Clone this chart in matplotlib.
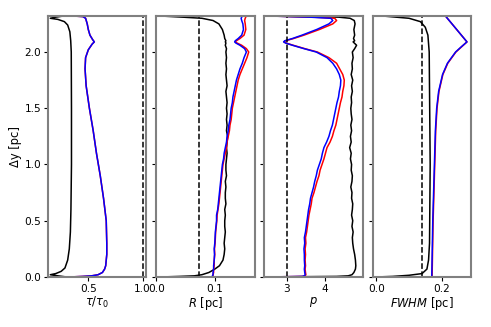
import matplotlib
matplotlib.use('Agg')
import matplotlib.pyplot as plt

# ---- smooth profiles (panel 1: tau/tau0) ----
y_tau_ref = [0.00, 0.01, 0.02, 0.03, 0.05, 0.08, 0.15, 0.25, 0.40, 0.60, 1.00, 1.50, 2.00,
             2.10, 2.18, 2.24, 2.27, 2.29, 2.30, 2.31, 2.32]
tau_ref = [0.30, 0.22, 0.15, 0.20, 0.25, 0.285, 0.31, 0.325, 0.335, 0.34, 0.345, 0.345, 0.343,
           0.338, 0.33, 0.31, 0.28, 0.22, 0.15, 0.20, 0.27]

y_tau = [0.00, 0.005, 0.01, 0.02, 0.04, 0.07, 0.10, 0.20, 0.30, 0.50, 0.70, 0.90, 1.10, 1.30,
         1.50, 1.70, 1.85, 1.95, 2.02, 2.07, 2.09, 2.11, 2.15, 2.20, 2.25, 2.30, 2.315, 2.32]
tau_blue = [0.33, 0.45, 0.53, 0.59, 0.63, 0.65, 0.66, 0.67, 0.67, 0.665, 0.64, 0.61, 0.575, 0.545,
            0.51, 0.48, 0.47, 0.475, 0.50, 0.535, 0.555, 0.54, 0.515, 0.50, 0.49, 0.475, 0.45, 0.36]
tau_red = [0.33, 0.45, 0.53, 0.59, 0.63, 0.65, 0.66, 0.67, 0.67, 0.665, 0.64, 0.61, 0.575, 0.545,
           0.51, 0.48, 0.47, 0.475, 0.50, 0.535, 0.555, 0.54, 0.515, 0.50, 0.49, 0.475, 0.45, 0.36]

# ---- noisy profiles (panel 2: R, panel 3: p) ----
y_grid = [0.00, 0.005, 0.01, 0.02, 0.04, 0.07, 0.10, 0.15,
          0.20, 0.25, 0.30, 0.35, 0.40, 0.45, 0.50, 0.55, 0.60, 0.65, 0.70, 0.75, 0.80,
          0.85, 0.90, 0.95, 1.00, 1.05, 1.10, 1.15, 1.20, 1.25, 1.30, 1.35, 1.40, 1.45,
          1.50, 1.55, 1.60, 1.65, 1.70, 1.75, 1.80, 1.85, 1.90, 1.95, 2.00,
          2.03, 2.06, 2.08, 2.09, 2.10, 2.12, 2.15, 2.20, 2.25, 2.28, 2.30, 2.31, 2.32]

R_ref = [0.008, 0.040, 0.065, 0.078, 0.090, 0.100, 0.108, 0.114,
         0.116, 0.117, 0.116, 0.117, 0.118, 0.117, 0.117, 0.118, 0.117, 0.119, 0.118,
         0.118, 0.119, 0.118, 0.120, 0.119, 0.119, 0.120, 0.121, 0.120, 0.121, 0.122,
         0.120, 0.121, 0.120, 0.121, 0.120, 0.121, 0.120, 0.119, 0.121, 0.120, 0.119,
         0.120, 0.119, 0.120, 0.119,
         0.120, 0.118, 0.119, 0.118, 0.119, 0.117, 0.116, 0.113, 0.107, 0.097, 0.078, 0.045, 0.008]
R_blue = [0.096, 0.096, 0.096, 0.097, 0.097, 0.098, 0.098, 0.099,
          0.0995, 0.099, 0.100, 0.1005, 0.101, 0.102, 0.103, 0.103, 0.105, 0.106, 0.107,
          0.108, 0.109, 0.110, 0.111, 0.112, 0.113, 0.115, 0.116, 0.118, 0.120, 0.121,
          0.123, 0.124, 0.126, 0.127, 0.128, 0.130, 0.131, 0.133, 0.135, 0.137, 0.140,
          0.143, 0.147, 0.150, 0.154,
          0.151, 0.143, 0.136, 0.134, 0.135, 0.140, 0.146, 0.149, 0.148, 0.146, 0.145, 0.146, 0.147]
R_red = [0.096, 0.096, 0.097, 0.097, 0.098, 0.098, 0.099, 0.099,
         0.100, 0.0995, 0.1005, 0.101, 0.1015, 0.1025, 0.1035, 0.104, 0.1055, 0.107, 0.108,
         0.109, 0.110, 0.111, 0.112, 0.113, 0.114, 0.116, 0.118, 0.120, 0.121, 0.123,
         0.125, 0.126, 0.128, 0.129, 0.130, 0.132, 0.134, 0.136, 0.138, 0.140, 0.143,
         0.147, 0.151, 0.155, 0.158,
         0.154, 0.146, 0.138, 0.135, 0.137, 0.143, 0.150, 0.153, 0.152, 0.151, 0.152, 0.153, 0.152]

p_ref = [2.55, 4.30, 4.60, 4.70, 4.75, 4.79, 4.80, 4.79,
         4.77, 4.74, 4.72, 4.71, 4.73, 4.70, 4.72, 4.69, 4.71, 4.72, 4.69, 4.70, 4.67,
         4.70, 4.71, 4.68, 4.69, 4.66, 4.68, 4.64, 4.68, 4.66, 4.69, 4.67, 4.70, 4.68,
         4.67, 4.69, 4.68, 4.71, 4.69, 4.72, 4.68, 4.71, 4.70, 4.73, 4.71,
         4.77, 4.82, 4.76, 4.73, 4.77, 4.74, 4.77, 4.75, 4.78, 4.76, 4.65, 4.35, 2.50]
p_blue = [2.55, 3.40, 3.46, 3.48, 3.47, 3.46, 3.47, 3.46,
          3.46, 3.45, 3.47, 3.46, 3.49, 3.51, 3.53, 3.55, 3.57, 3.60, 3.62, 3.66, 3.70,
          3.73, 3.77, 3.80, 3.85, 3.90, 3.93, 3.97, 4.04, 4.10, 4.14, 4.19, 4.22, 4.25,
          4.28, 4.31, 4.35, 4.37, 4.40, 4.41, 4.37, 4.30, 4.20, 4.05, 3.77,
          3.45, 3.15, 2.97, 2.92, 2.95, 3.15, 3.40, 3.78, 4.10, 4.20, 4.15, 3.60, 2.55]
p_red = [2.55, 3.42, 3.48, 3.50, 3.49, 3.48, 3.49, 3.48,
         3.49, 3.48, 3.50, 3.49, 3.52, 3.54, 3.56, 3.58, 3.61, 3.64, 3.66, 3.71, 3.75,
         3.79, 3.84, 3.87, 3.92, 3.97, 4.01, 4.05, 4.13, 4.19, 4.23, 4.28, 4.31, 4.34,
         4.37, 4.40, 4.44, 4.46, 4.49, 4.50, 4.46, 4.38, 4.30, 4.10, 3.80,
         3.47, 3.17, 2.98, 2.93, 2.97, 3.18, 3.45, 3.85, 4.20, 4.30, 4.25, 3.70, 2.55]

# ---- panel 4: FWHM ----
y_fw_ref = [0.00, 0.005, 0.015, 0.03, 0.07, 0.15, 0.30, 1.00, 2.00, 2.15, 2.22, 2.27,
            2.30, 2.31, 2.32]
fw_ref = [0.00, 0.05, 0.10, 0.14, 0.155, 0.160, 0.163, 0.165, 0.162, 0.158, 0.150, 0.135,
          0.10, 0.06, 0.02]
y_fw = [0.00, 0.02, 0.50, 1.00, 1.30, 1.50, 1.65, 1.80, 1.90, 2.00, 2.05, 2.09, 2.32]
fw_blue = [0.170, 0.170, 0.173, 0.178, 0.181, 0.185, 0.191, 0.203, 0.218, 0.243, 0.262, 0.278, 0.212]
fw_red = [0.171, 0.171, 0.174, 0.179, 0.182, 0.186, 0.192, 0.204, 0.219, 0.244, 0.263, 0.278, 0.212]

ref_lines = [1.0, 0.073, 3.0, 0.14]
xlims = [(0.13, 1.035), (0.0, 0.168), (2.42, 4.98), (-0.012, 0.29)]
xticks = [[0.5, 1.0], [0.0, 0.1], [3, 4], [0.0, 0.2]]
xticklabels = [['0.5', '1.0'], ['0.0', '0.1'], ['3', '4'], ['0.0', '0.2']]
xlabels = [r'$\tau/\tau_0$', r'$R$ [pc]', r'$p$', r'$FWHM$ [pc]']

plt.rcParams['font.size'] = 7.6

fig, axes = plt.subplots(1, 4, figsize=(4.91, 3.27), sharey=True)
fig.subplots_adjust(left=0.098, right=0.959, bottom=0.153, top=0.951, wspace=0.1)

data = [
    (y_tau_ref, tau_ref, y_tau, tau_red, tau_blue),
    (y_grid, R_ref, y_grid, R_red, R_blue),
    (y_grid, p_ref, y_grid, p_red, p_blue),
    (y_fw_ref, fw_ref, y_fw, fw_red, fw_blue),
]

lw = 1.1
for i, ax in enumerate(axes):
    yr, xr, yc, xred, xblue = data[i]
    ax.plot(xr, yr, color='black', lw=lw)
    ax.plot(xred, yc, color='red', lw=lw)
    ax.plot(xblue, yc, color='blue', lw=lw)
    ax.axvline(ref_lines[i], color='black', ls='--', lw=1.1)
    ax.set_xlim(*xlims[i])
    ax.set_xticks(xticks[i])
    ax.set_xticklabels(xticklabels[i])
    ax.set_xlabel(xlabels[i], labelpad=1, fontsize=8.3)
    for s in ax.spines.values():
        s.set_color('grey')
        s.set_linewidth(1.5)
    ax.tick_params(length=3, width=0.8, pad=2)

axes[0].set_ylim(0, 2.32)
axes[0].set_yticks([0.0, 0.5, 1.0, 1.5, 2.0])
axes[0].set_ylabel('Δy [pc]', labelpad=2, fontsize=8.3)

plt.savefig('out.png', dpi=100)
